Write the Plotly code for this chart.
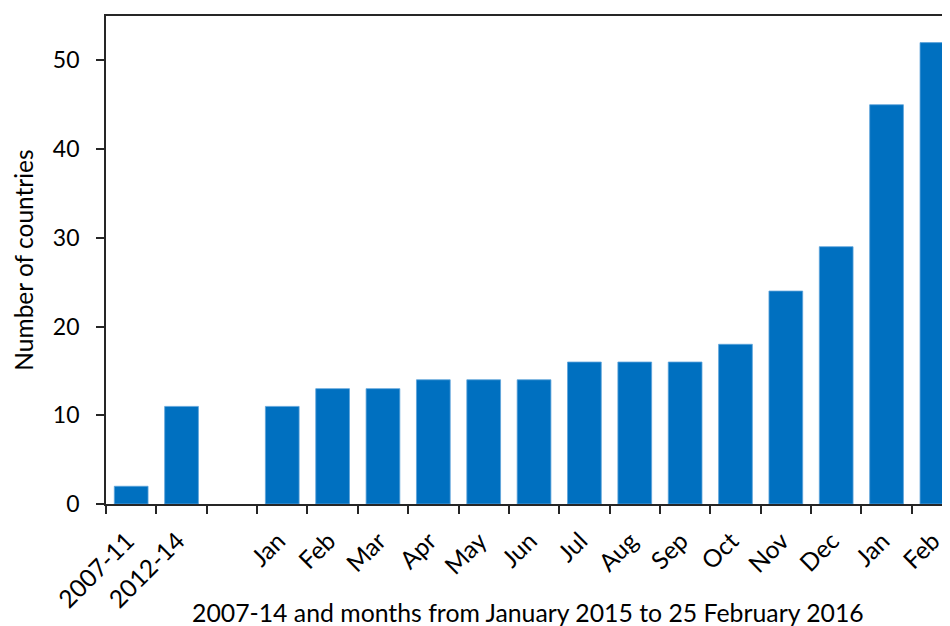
import plotly.graph_objects as go

categories = ["2007-11", "2012-14", "gap", "Jan 2015", "Feb 2015", "Mar 2015", "Apr 2015",
              "May 2015", "Jun 2015", "Jul 2015", "Aug 2015", "Sep 2015", "Oct 2015",
              "Nov 2015", "Dec 2015", "Jan 2016", "Feb 2016"]
tick_labels = ["2007-11", "2012-14", "", "Jan", "Feb", "Mar", "Apr", "May", "Jun", "Jul",
               "Aug", "Sep", "Oct", "Nov", "Dec", "Jan", "Feb"]
countries = [2, 11, None, 11, 13, 13, 14, 14, 14, 16, 16, 16, 18, 24, 29, 45, 52]
x_title = "2007-14 and months from January 2015 to 25 February 2016"
y_title = "Number of countries"

FONT = "Lato, 'Open Sans', sans-serif"

fig = go.Figure(go.Bar(
    x=categories, y=countries,
    marker=dict(color="#0070C0", line=dict(color="#5DA3DA", width=0.8)),
))

fig.update_layout(
    width=950, height=626,
    margin=dict(l=97.5, r=8, t=7.5, b=130),
    plot_bgcolor="white", paper_bgcolor="white",
    bargap=0.33, showlegend=False,
    font=dict(family=FONT, size=23, color="#000000"),
    annotations=[dict(text=x_title, xref="paper", yref="paper", x=0.5, y=-0.222,
                      xanchor="center", yanchor="middle", showarrow=False,
                      font=dict(size=24.8))],
)
fig.update_xaxes(
    type="category", tickmode="array", tickvals=categories, ticktext=tick_labels,
    tickson="boundaries", ticks="outside", ticklen=8, tickwidth=1.5, tickcolor="#262626",
    tickangle=-45, range=[-0.5, 16.26], automargin=False,
    tickfont=dict(size=24.5),
    ticklabelstandoff=11, ticklabelshift=-4,
    showline=True, linecolor="#262626", linewidth=1.8, mirror=True,
    showgrid=False,
)
fig.update_yaxes(
    range=[0, 55], tickvals=[0, 10, 20, 30, 40, 50], automargin=False,
    ticks="outside", ticklen=8, tickwidth=1.5, tickcolor="#262626",
    ticklabelstandoff=12,
    showline=True, linecolor="#262626", linewidth=1.8,
    showgrid=False, zeroline=False,
    title=dict(text=y_title, font=dict(size=24.5), standoff=12),
)

fig.write_html("out.html")
